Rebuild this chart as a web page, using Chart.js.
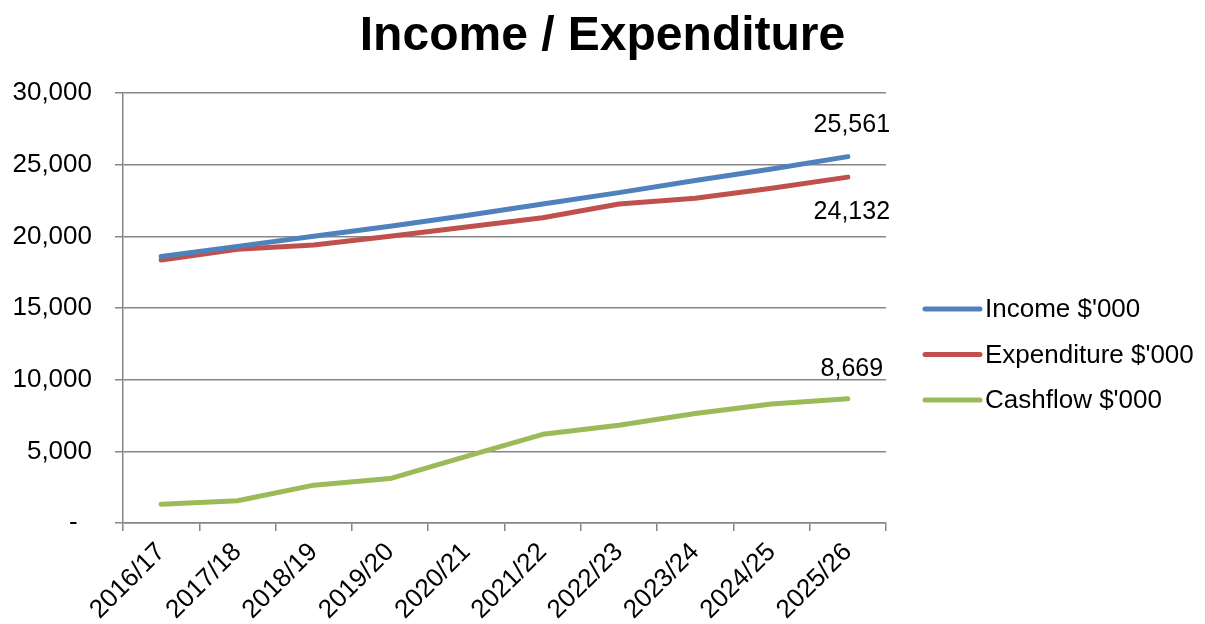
<!DOCTYPE html>
<html>
<head>
<meta charset="utf-8">
<title>Income / Expenditure</title>
<script src="https://cdn.jsdelivr.net/npm/chart.js@4.4.1/dist/chart.umd.min.js"></script>
<style>
  html, body { margin: 0; padding: 0; background: #fff; }
  #wrap { width: 1205px; height: 624px; }
</style>
</head>
<body>
<div id="wrap"><canvas id="incomeChart" width="1205" height="624"></canvas></div>
<script>
// Financial years
const years = ['2016/17', '2017/18', '2018/19', '2019/20', '2020/21',
               '2021/22', '2022/23', '2023/24', '2024/25', '2025/26'];

// Values in $'000
const income      = [18600, 19300, 20000, 20700, 21450, 22250, 23050, 23900, 24700, 25561];
const expenditure = [18350, 19100, 19400, 20000, 20650, 21300, 22250, 22650, 23350, 24132];
const cashflow    = [1300, 1550, 2640, 3100, 4650, 6190, 6820, 7640, 8300, 8669];

const seriesNames  = ["Income $'000", "Expenditure $'000", "Cashflow $'000"];
const seriesColors = ['#4F81BD', '#C0504D', '#9BBB59'];

// y-axis ticks
const yMin = 0, yMax = 30000, yStep = 5000;

const chartTitle = 'Income / Expenditure';
const FONT = "'Liberation Sans', Arial, sans-serif";
const fmt = v => v.toLocaleString('en-US');

// end-of-line value labels (offset from the last point, px)
const endLabelOffsets = [-32, 35, -30];

// title centred over the whole canvas, not just the plot
const pageTitle = {
  id: 'pageTitle',
  afterDraw(chart) {
    const ctx = chart.ctx;
    ctx.save();
    ctx.font = 'bold 48px ' + FONT;
    ctx.fillStyle = '#000';
    ctx.textAlign = 'center';
    ctx.textBaseline = 'alphabetic';
    ctx.fillText(chartTitle, chart.width / 2, 50);
    ctx.restore();
  }
};

const endLabels = {
  id: 'endLabels',
  afterDatasetsDraw(chart) {
    const ctx = chart.ctx;
    ctx.save();
    ctx.font = '25px ' + FONT;
    ctx.fillStyle = '#000';
    ctx.textAlign = 'center';
    ctx.textBaseline = 'middle';
    chart.data.datasets.forEach((ds, i) => {
      const meta = chart.getDatasetMeta(i);
      const last = meta.data[meta.data.length - 1];
      const value = ds.data[ds.data.length - 1];
      ctx.fillText(fmt(value), last.x + 4, last.y + endLabelOffsets[i]);
    });
    ctx.restore();
  }
};

// legend on the right side, drawn by hand
const sideLegend = {
  id: 'sideLegend',
  afterDraw(chart) {
    const ctx = chart.ctx;
    const x0 = 925, x1 = 980, top = 309, gap = 45.5;
    ctx.save();
    ctx.font = '26px ' + FONT;
    ctx.textBaseline = 'middle';
    ctx.textAlign = 'left';
    chart.data.datasets.forEach((ds, i) => {
      const y = top + i * gap;
      ctx.strokeStyle = ds.borderColor;
      ctx.lineWidth = 5;
      ctx.lineCap = 'round';
      ctx.beginPath();
      ctx.moveTo(x0, y);
      ctx.lineTo(x1, y);
      ctx.stroke();
      ctx.fillStyle = '#000';
      ctx.fillText(ds.label, x1 + 5, y + 1);
    });
    ctx.restore();
  }
};

const seriesData = [income, expenditure, cashflow];

new Chart(document.getElementById('incomeChart').getContext('2d'), {
  type: 'line',
  data: {
    labels: years,
    datasets: seriesData.map((d, i) => ({
      label: seriesNames[i],
      data: d,
      borderColor: seriesColors[i],
      backgroundColor: seriesColors[i],
      borderWidth: 5,
      borderCapStyle: 'round',
      borderJoinStyle: 'round',
      pointRadius: 0,
      tension: 0,
      fill: false
    }))
  },
  options: {
    responsive: false,
    animation: false,
    devicePixelRatio: 1,
    layout: { padding: { top: 93, left: 0, right: 319, bottom: 0 } },
    plugins: {
      legend: { display: false },
      tooltip: { enabled: false },
      title: { display: false }
    },
    scales: {
      x: {
        offset: true,
        grid: {
          offset: true,
          drawOnChartArea: false,
          drawTicks: true,
          tickLength: 8,
          color: '#868686',
          lineWidth: 1.5
        },
        border: { color: '#868686', width: 1.5 },
        ticks: {
          color: '#000',
          font: { family: FONT, size: 26 },
          minRotation: 45,
          maxRotation: 45,
          padding: 6
        },
        afterFit(scale) { scale.height = 101; }
      },
      y: {
        min: yMin,
        max: yMax,
        grid: {
          color: '#868686',
          lineWidth: 1.5,
          drawTicks: true,
          tickLength: 8
        },
        border: { color: '#868686', width: 1.5 },
        ticks: {
          stepSize: yStep,
          color: '#000',
          font: { family: FONT, size: 26 },
          padding: 23,
          callback: v => v === 0 ? '-  ' : fmt(v)
        },
        afterFit(scale) { scale.width = 123; }
      }
    }
  },
  plugins: [pageTitle, endLabels, sideLegend]
});
</script>
</body>
</html>
